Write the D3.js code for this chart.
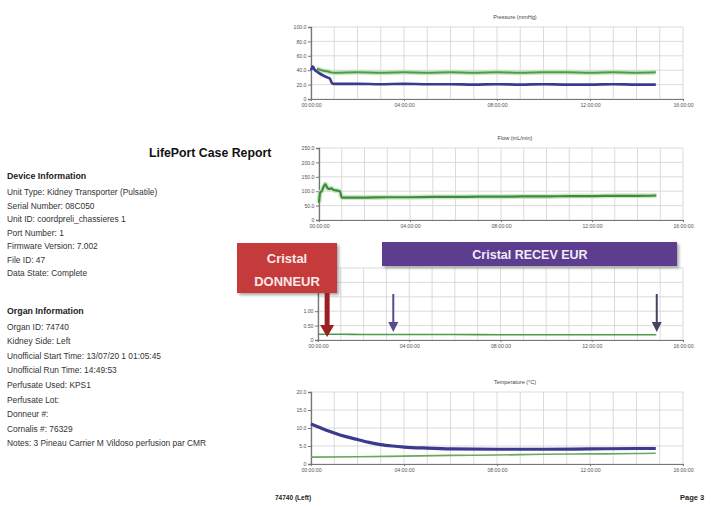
<!DOCTYPE html>
<html lang="fr">
<head>
<meta charset="UTF-8" />
<title>LifePort Case Report</title>
<style>
  body { margin: 0; background: #fff; }
  svg text { font-family: "Liberation Sans", Arial, sans-serif; }
  .grid line { stroke: #d2d2d2; stroke-width: 0.8; }
  .axis text { fill: #555; font-size: 5.2px; }
  .axis path, .axis line { stroke: #777; }
</style>
</head>
<body>
<div id="wrapper"></div>
<script src="https://d3js.org/d3.v7.min.js"></script>
<script>
// ---- data (hours since start) ----
const xTicks = [0, 4, 8, 12, 16];
const xTickLabels = ["00:00:00", "04:00:00", "08:00:00", "12:00:00", "16:00:00"];

const pressureTicks = [0, 20, 40, 60, 80, 100];
const pressureBlueTime = [0, 0.08, 0.15, 0.3, 0.5, 0.7, 0.82, 0.9, 1, 2, 3, 4, 5, 6, 7, 8, 9, 10, 11, 12, 13, 14, 14.83];
const pressureBlue     = [40, 45, 41, 37, 33, 30, 28, 22, 21, 21, 20.5, 21, 20.5, 20.5, 20, 20.5, 20, 20.5, 20, 20, 20.5, 20, 20];
const pressureGreenTime = [0.25, 0.35, 0.5, 0.7, 0.85, 1, 2, 3, 4, 5, 6, 7, 8, 9, 10, 11, 12, 13, 14, 14.83];
const pressureGreen     = [42, 41, 39.5, 38.5, 37, 36.5, 37, 36.5, 37, 36.5, 37, 36.5, 37, 36.5, 37, 37, 36.5, 37, 36.5, 37];

const flowTicks = [0, 50, 100, 150, 200, 250];
const flowGreenTime = [0, 0.05, 0.12, 0.2, 0.28, 0.36, 0.45, 0.55, 0.65, 0.8, 0.92, 1, 2, 3, 4, 5, 6, 7, 8, 9, 10, 11, 12, 13, 14, 14.83];
const flowGreen     = [60, 95, 100, 115, 125, 112, 108, 110, 104, 102, 100, 78, 78, 79, 79, 80, 80, 81, 81, 82, 82, 83, 83, 84, 84, 85];

const resistanceTicks = [0, 0.5, 1, 1.5, 2, 2.5];
const resistanceGreenTime = [0, 1, 2, 4, 6, 8, 10, 12, 14, 14.83];
const resistanceGreen     = [0.2, 0.2, 0.19, 0.19, 0.19, 0.18, 0.18, 0.18, 0.18, 0.18];

const tempTicks = [0, 5, 10, 15, 20];
const tempBlueTime = [0, 0.5, 1, 1.5, 2, 2.5, 3, 3.5, 4, 5, 6, 8, 10, 12, 14, 14.83];
const tempBlue     = [11.1, 9.8, 8.6, 7.6, 6.8, 6.0, 5.4, 5.0, 4.7, 4.4, 4.2, 4.1, 4.1, 4.2, 4.3, 4.3];
const tempGreenTime = [0, 2, 4, 6, 8, 10, 12, 14, 14.83];
const tempGreen     = [1.9, 2.0, 2.2, 2.4, 2.5, 2.7, 2.8, 2.9, 3.0];

const donorArrowTime = [0.4];
const recipientArrowTimes = [3.3, 14.85];

const deviceInfo = [
  "Unit Type: Kidney Transporter (Pulsatile)",
  "Serial Number: 08C050",
  "Unit ID: coordpreli_chassieres 1",
  "Port Number: 1",
  "Firmware Version: 7.002",
  "File ID: 47",
  "Data State: Complete"
];
const organInfo = [
  "Organ ID: 74740",
  "Kidney Side: Left",
  "Unofficial Start Time: 13/07/20 1 01:05:45",
  "Unofficial Run Time: 14:49:53",
  "Perfusate Used: KPS1",
  "Perfusate Lot:",
  "Donneur #:",
  "Cornalis #: 76329",
  "Notes: 3 Pineau Carrier  M Vildoso  perfusion par CMR"
];

// ---- drawing ----
const W = 711, H = 507;
const svg = d3.select("#wrapper").append("svg")
  .attr("width", W).attr("height", H)
  .style("display", "block").style("background", "#fff");

const BLUE = "#3b3a8e", GREEN = "#4e9a4a";

function zipSeries(t, v) { return t.map((d, i) => [d, v[i]]); }

function panel(cfg) {
  const x = d3.scaleLinear().domain([0, 16]).range([cfg.left, 683]);
  const y = d3.scaleLinear().domain([0, cfg.ticks[cfg.ticks.length - 1]]).range([cfg.bottom, cfg.top]);
  const g = svg.append("g");

  if (cfg.title) {
    g.append("text").attr("x", 515).attr("y", cfg.top - 8)
      .attr("text-anchor", "middle").attr("font-size", 5.5).attr("fill", "#444").text(cfg.title);
  }

  const grid = g.append("g").attr("class", "grid");
  grid.selectAll(".v").data(d3.range(0, 17)).join("line")
    .attr("x1", d => x(d)).attr("x2", d => x(d)).attr("y1", cfg.top).attr("y2", cfg.bottom);
  grid.selectAll(".h").data(cfg.ticks).join("line")
    .attr("x1", cfg.left).attr("x2", 683).attr("y1", d => y(d)).attr("y2", d => y(d));

  g.append("g").attr("class", "axis")
    .attr("transform", `translate(0,${cfg.bottom})`)
    .call(d3.axisBottom(x).tickValues(xTicks).tickFormat((d, i) => xTickLabels[i]).tickSize(2).tickPadding(2))
    .call(a => a.select(".domain").attr("stroke", "#999"));
  g.append("g").attr("class", "axis")
    .attr("transform", `translate(${cfg.left},0)`)
    .call(d3.axisLeft(y).tickValues(cfg.labelTicks || cfg.ticks).tickFormat(cfg.fmt).tickSize(3).tickPadding(1.5))
    .call(a => a.select(".domain").attr("stroke", "#555").attr("stroke-width", 1.3));

  const line = d3.line().x(d => x(d[0])).y(d => y(d[1])).curve(d3.curveMonotoneX);
  cfg.series.forEach(s => {
    if (s.halo) {
      g.append("path").attr("d", line(s.data)).attr("fill", "none")
        .attr("stroke", "#bfe3b6").attr("stroke-width", 5).attr("opacity", 0.8);
    }
    g.append("path").attr("d", line(s.data)).attr("fill", "none")
      .attr("stroke", s.color).attr("stroke-width", s.width);
  });
  return x;
}

const fmt1 = d => d === 0 ? "0" : d.toFixed(1);
const fmt2 = d => d === 0 ? "0" : d.toFixed(2);

panel({ title: "Pressure (mmHg)", left: 311, top: 27, bottom: 99, ticks: pressureTicks, fmt: fmt1,
  series: [
    { data: zipSeries(pressureGreenTime, pressureGreen), color: GREEN, width: 2, halo: true },
    { data: zipSeries(pressureBlueTime, pressureBlue), color: BLUE, width: 2.6 }
  ] });
panel({ title: "Flow (mL/min)", left: 319, top: 148, bottom: 220, ticks: flowTicks, fmt: fmt1,
  series: [{ data: zipSeries(flowGreenTime, flowGreen), color: "#3f8a3c", width: 2.2, halo: true }] });
// top of the resistance panel (title, upper labels) lies under the pasted boxes
const xRes = panel({ title: null, left: 318, top: 268, bottom: 340, ticks: resistanceTicks,
  labelTicks: resistanceTicks.slice(0, 3), fmt: fmt2,
  series: [{ data: zipSeries(resistanceGreenTime, resistanceGreen), color: GREEN, width: 1.6 }] });
panel({ title: "Temperature (°C)", left: 311, top: 392, bottom: 464, ticks: tempTicks, fmt: fmt1,
  series: [
    { data: zipSeries(tempGreenTime, tempGreen), color: "#6aa85e", width: 1.6 },
    { data: zipSeries(tempBlueTime, tempBlue), color: BLUE, width: 3.2 }
  ] });

// ---- overlays ----
const defs = svg.append("defs");
defs.append("filter").attr("id", "shadow").attr("x", "-10%").attr("y", "-10%").attr("width", "130%").attr("height", "140%")
  .append("feDropShadow").attr("dx", 2).attr("dy", 2).attr("stdDeviation", 1.5).attr("flood-color", "#000").attr("flood-opacity", 0.35);

function arrow(xc, y0, y1, shaft, head, headLen, color) {
  const p = d3.path();
  p.moveTo(xc - shaft / 2, y0); p.lineTo(xc + shaft / 2, y0);
  p.lineTo(xc + shaft / 2, y1 - headLen); p.lineTo(xc + head / 2, y1 - headLen);
  p.lineTo(xc, y1); p.lineTo(xc - head / 2, y1 - headLen);
  p.lineTo(xc - shaft / 2, y1 - headLen); p.closePath();
  svg.append("path").attr("d", p.toString()).attr("fill", color);
}

svg.append("rect").attr("x", 237).attr("y", 243).attr("width", 100).attr("height", 50)
  .attr("fill", "#c53b3b").attr("filter", "url(#shadow)");
svg.append("text").attr("x", 287).attr("y", 263).attr("text-anchor", "middle")
  .attr("font-size", 13).attr("font-weight", "bold").attr("fill", "#fbe9e9").text("Cristal");
svg.append("text").attr("x", 287).attr("y", 286).attr("text-anchor", "middle")
  .attr("font-size", 13).attr("font-weight", "bold").attr("fill", "#fbe9e9").text("DONNEUR");

svg.append("rect").attr("x", 382).attr("y", 242).attr("width", 295).attr("height", 24)
  .attr("fill", "#5b3d8e").attr("filter", "url(#shadow)");
svg.append("text").attr("x", 530).attr("y", 259).attr("text-anchor", "middle")
  .attr("font-size", 12.5).attr("font-weight", "bold").attr("fill", "#f1ecf8").text("Cristal RECEV EUR");

donorArrowTime.forEach(t => arrow(xRes(t), 293, 337, 5, 14, 12, "#9e1f23"));
recipientArrowTimes.forEach((t, i) => arrow(xRes(t), 294, 332, 2, 10, 10, i === 0 ? "#5b4a8e" : "#4a4260"));

// ---- left report text ----
svg.append("text").attr("x", 149).attr("y", 157).attr("font-size", 12.3).attr("font-weight", "bold")
  .attr("fill", "#111").text("LifePort Case Report");

function block(title, lines, yHead, y0, step) {
  svg.append("text").attr("x", 7).attr("y", yHead).attr("font-size", 8.8).attr("font-weight", "bold")
    .attr("fill", "#222").text(title);
  svg.selectAll(null).data(lines).join("text")
    .attr("x", 7).attr("y", (d, i) => y0 + i * step)
    .attr("font-size", 8.4).attr("fill", "#333").text(d => d);
}
block("Device Information", deviceInfo, 179, 195, 13.5);
block("Organ Information", organInfo, 314, 329.5, 14.6);

svg.append("text").attr("x", 275).attr("y", 500).attr("font-size", 6.5).attr("font-weight", "bold")
  .attr("fill", "#222").text("74740 (Left)");
svg.append("text").attr("x", 680).attr("y", 500).attr("font-size", 7.5).attr("font-weight", "bold")
  .attr("fill", "#222").text("Page 3");
</script>
</body>
</html>
